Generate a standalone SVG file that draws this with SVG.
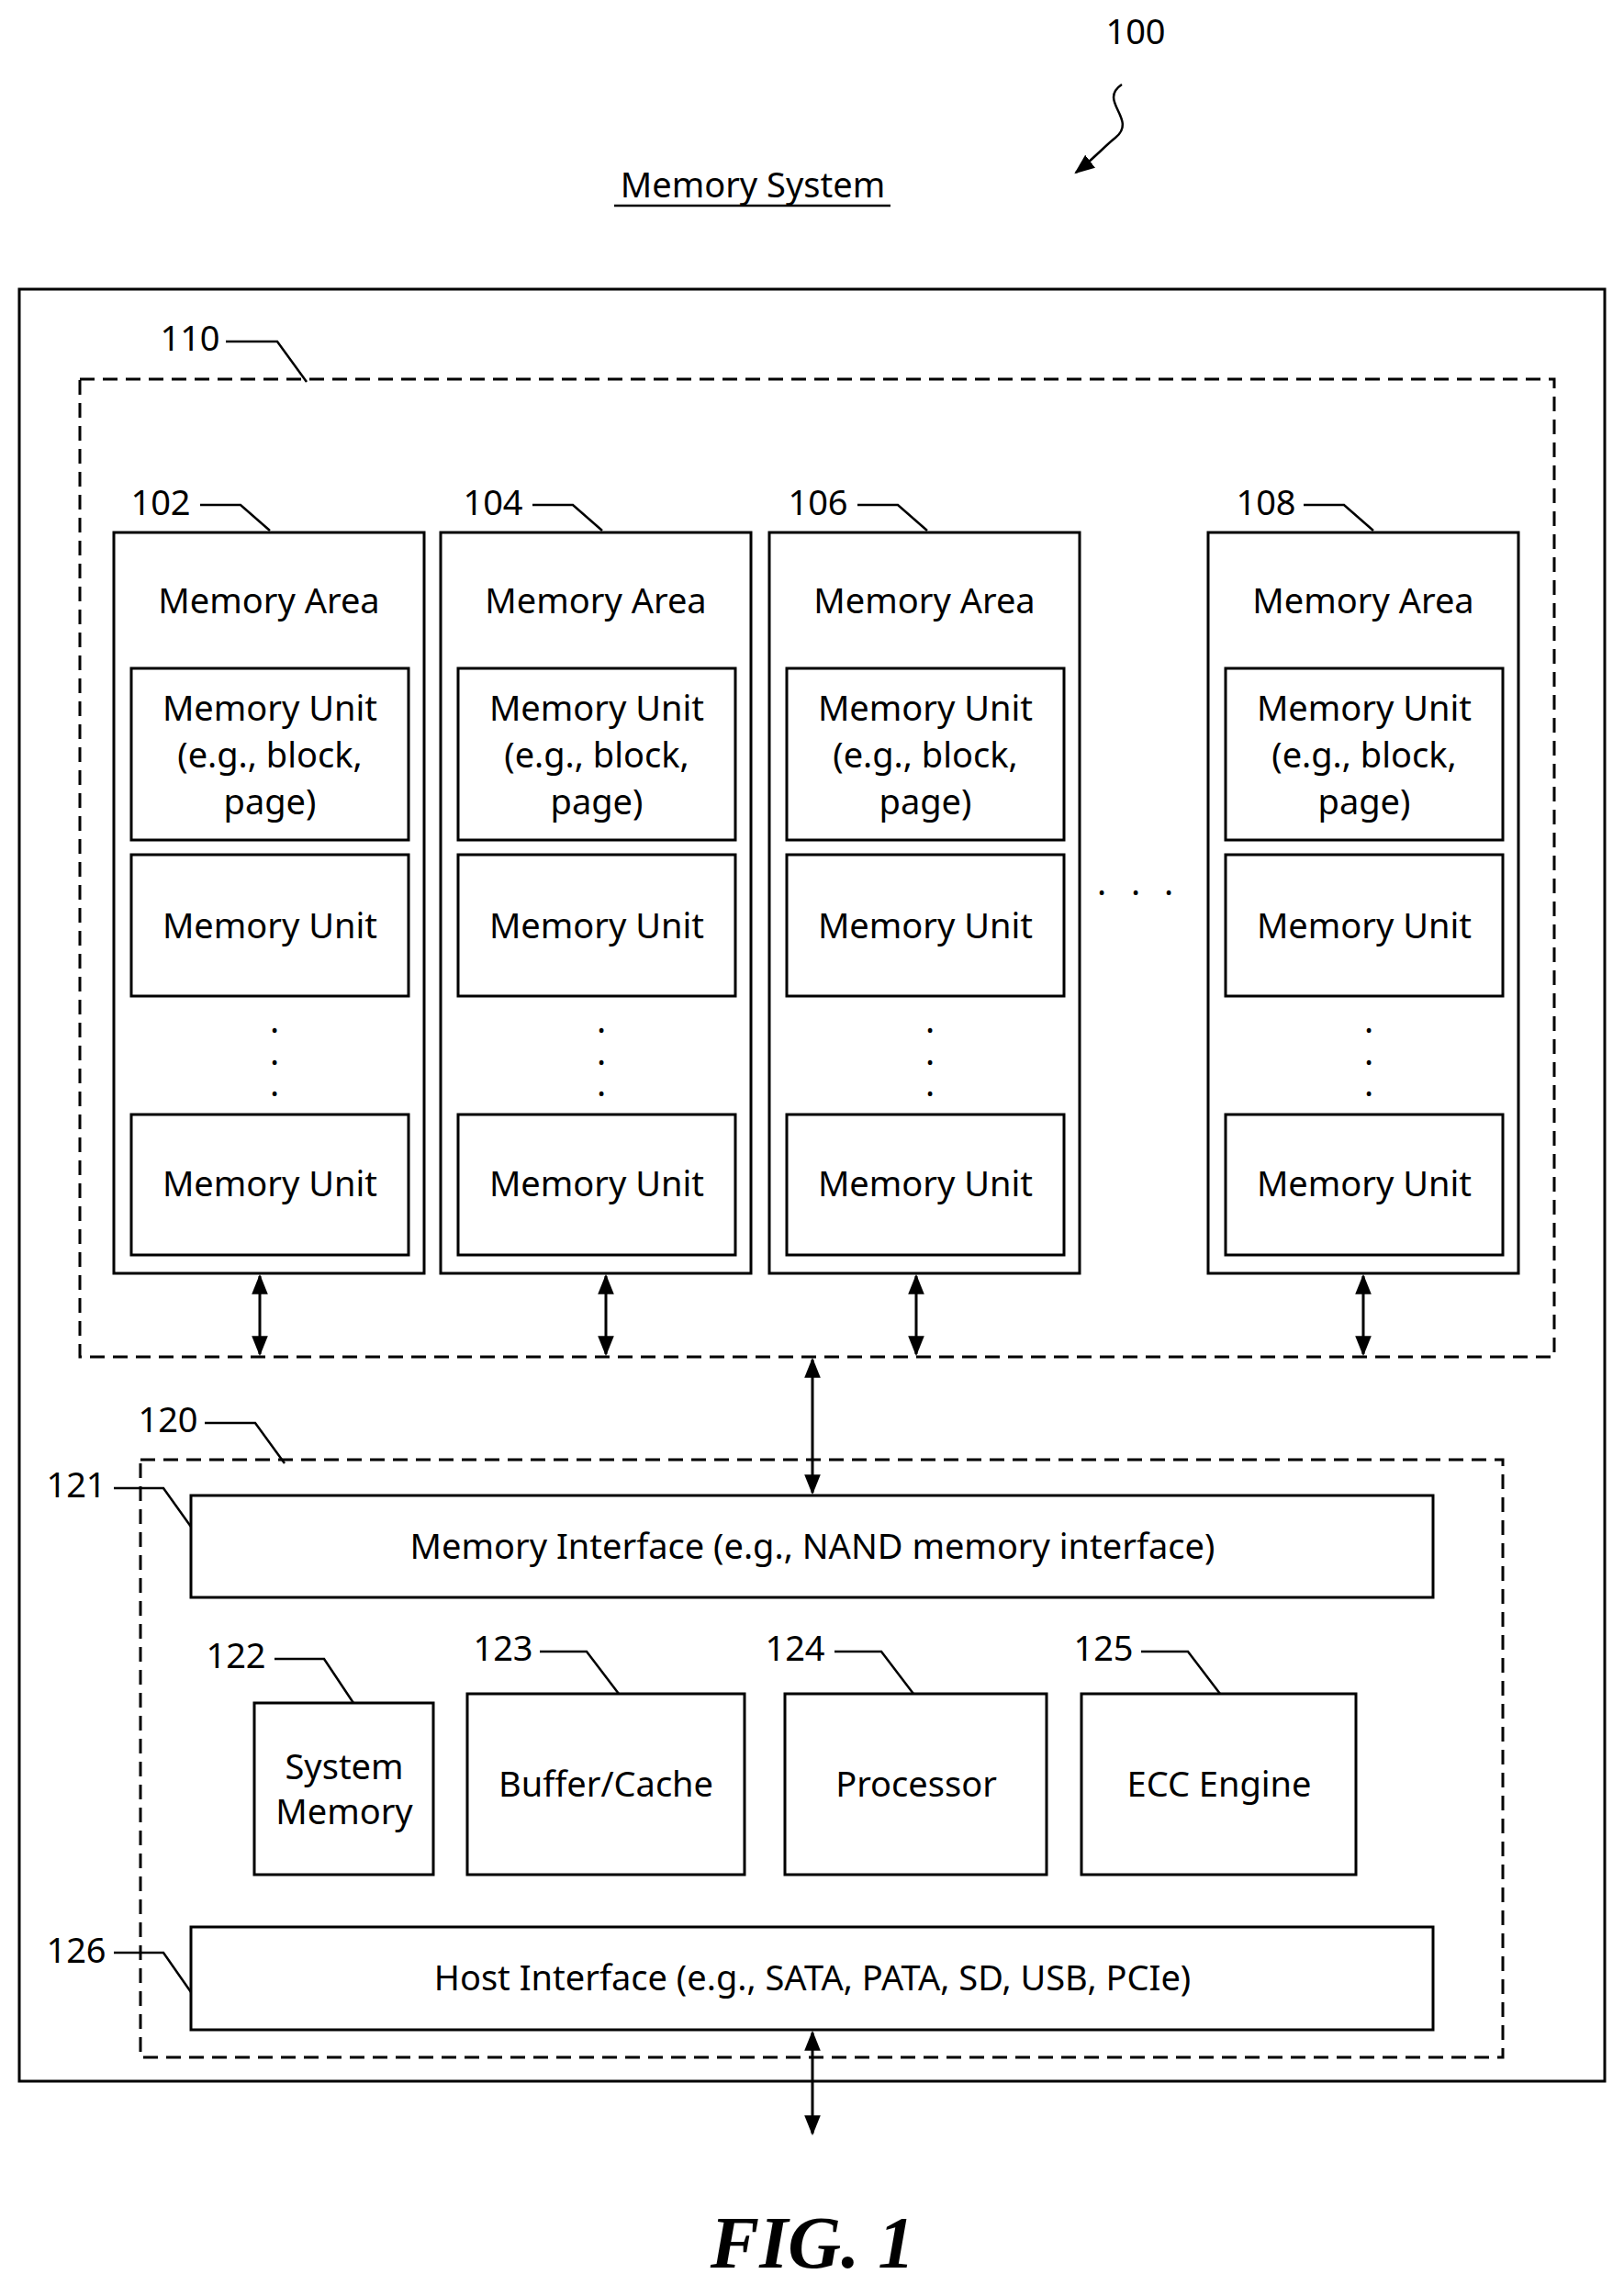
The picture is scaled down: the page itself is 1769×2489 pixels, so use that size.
<svg xmlns="http://www.w3.org/2000/svg" width="1769" height="2489" viewBox="0 0 1769 2489">
<defs>
<marker id="ah" viewBox="0 0 10 10" refX="9" refY="5" markerWidth="7" markerHeight="7" orient="auto-start-reverse" markerUnits="userSpaceOnUse"><path d="M0,0 L10,5 L0,10 z" fill="#000"/></marker>
<marker id="a2" viewBox="0 0 10 10" refX="9" refY="5" markerWidth="22" markerHeight="22" orient="auto-start-reverse" markerUnits="userSpaceOnUse"><path d="M0,1 L10,5 L0,9 z" fill="#000"/></marker>
</defs>
<style>
text{font-family:"Noto Sans","DejaVu Sans",sans-serif;font-size:38px;fill:#000}
.c{text-anchor:middle}
.b{fill:#fff;stroke:#000;stroke-width:3}
.d{fill:none;stroke:#000;stroke-width:3;stroke-dasharray:16,9}
.l{fill:none;stroke:#000;stroke-width:2.5}
.ar{stroke:#000;stroke-width:3;fill:none;marker-start:url(#a2);marker-end:url(#a2)}
</style>
<rect width="1769" height="2489" fill="#fff"/>
<text x="1237" y="48" class="c">100</text>
<path class="l" d="M1222,92 C1195,110 1240,130 1215,150 C1200,162 1195,170 1172,188" marker-end="url(#a2)"/>
<text x="820" y="215" class="c">Memory System</text>
<line x1="669" y1="224" x2="970" y2="224" stroke="#000" stroke-width="2.5"/>
<rect x="21" y="315" width="1727" height="1952" fill="none" stroke="#000" stroke-width="3"/>
<g id="n110"><rect class="d" x="87" y="413" width="1606" height="1065"/><text x="207" y="382" class="c">110</text><path class="l" d="M246,372 H302 L334,416"/></g>
<g id="n102"><rect class="b" x="124" y="580" width="338" height="807"/><text x="293" y="668" class="c">Memory Area</text>
<rect class="b" x="143" y="728" width="302" height="187"/><text x="294" y="785" class="c">Memory Unit</text><text x="294" y="836" class="c">(e.g., block,</text><text x="294" y="887" class="c">page)</text>
<rect class="b" x="143" y="931" width="302" height="154"/><text x="294" y="1022" class="c">Memory Unit</text>
<text x="299" y="1125" class="c">.</text><text x="299" y="1160" class="c">.</text><text x="299" y="1194" class="c">.</text>
<rect class="b" x="143" y="1214" width="302" height="153"/><text x="294" y="1303" class="c">Memory Unit</text>
<text x="175" y="561" class="c">102</text><path class="l" d="M218,550 H262 L294,578"/></g>
<g id="n104"><rect class="b" x="480" y="580" width="338" height="807"/><text x="649" y="668" class="c">Memory Area</text>
<rect class="b" x="499" y="728" width="302" height="187"/><text x="650" y="785" class="c">Memory Unit</text><text x="650" y="836" class="c">(e.g., block,</text><text x="650" y="887" class="c">page)</text>
<rect class="b" x="499" y="931" width="302" height="154"/><text x="650" y="1022" class="c">Memory Unit</text>
<text x="655" y="1125" class="c">.</text><text x="655" y="1160" class="c">.</text><text x="655" y="1194" class="c">.</text>
<rect class="b" x="499" y="1214" width="302" height="153"/><text x="650" y="1303" class="c">Memory Unit</text>
<text x="537" y="561" class="c">104</text><path class="l" d="M580,550 H624 L656,578"/></g>
<g id="n106"><rect class="b" x="838" y="580" width="338" height="807"/><text x="1007" y="668" class="c">Memory Area</text>
<rect class="b" x="857" y="728" width="302" height="187"/><text x="1008" y="785" class="c">Memory Unit</text><text x="1008" y="836" class="c">(e.g., block,</text><text x="1008" y="887" class="c">page)</text>
<rect class="b" x="857" y="931" width="302" height="154"/><text x="1008" y="1022" class="c">Memory Unit</text>
<text x="1013" y="1125" class="c">.</text><text x="1013" y="1160" class="c">.</text><text x="1013" y="1194" class="c">.</text>
<rect class="b" x="857" y="1214" width="302" height="153"/><text x="1008" y="1303" class="c">Memory Unit</text>
<text x="891" y="561" class="c">106</text><path class="l" d="M934,550 H978 L1010,578"/></g>
<g id="dots"><text x="1200" y="975" class="c">.</text><text x="1237" y="975" class="c">.</text><text x="1273" y="975" class="c">.</text></g>
<g id="n108"><rect class="b" x="1316" y="580" width="338" height="807"/><text x="1485" y="668" class="c">Memory Area</text>
<rect class="b" x="1335" y="728" width="302" height="187"/><text x="1486" y="785" class="c">Memory Unit</text><text x="1486" y="836" class="c">(e.g., block,</text><text x="1486" y="887" class="c">page)</text>
<rect class="b" x="1335" y="931" width="302" height="154"/><text x="1486" y="1022" class="c">Memory Unit</text>
<text x="1491" y="1125" class="c">.</text><text x="1491" y="1160" class="c">.</text><text x="1491" y="1194" class="c">.</text>
<rect class="b" x="1335" y="1214" width="302" height="153"/><text x="1486" y="1303" class="c">Memory Unit</text>
<text x="1379" y="561" class="c">108</text><path class="l" d="M1420,550 H1464 L1496,578"/></g>
<g id="n120"><rect class="d" x="153" y="1590" width="1484" height="651"/><text x="183" y="1560" class="c">120</text><path class="l" d="M223,1550 H278 L310,1594"/></g>
<g id="n121"><rect class="b" x="208" y="1629" width="1353" height="111"/><text x="885" y="1698" class="c">Memory Interface (e.g., NAND memory interface)</text>
<text x="83" y="1631" class="c">121</text><path class="l" d="M124,1621 H178 L208,1663"/></g>
<g id="n122"><rect class="b" x="277" y="1855" width="195" height="187"/><text x="375" y="1938" class="c">System</text><text x="375" y="1987" class="c">Memory</text>
<text x="257" y="1817" class="c">122</text><path class="l" d="M299,1807 H353 L385,1855"/></g>
<g id="n123"><rect class="b" x="509" y="1845" width="302" height="197"/><text x="660" y="1957" class="c">Buffer/Cache</text>
<text x="548" y="1809" class="c">123</text><path class="l" d="M588,1799 H639 L674,1845"/></g>
<g id="n124"><rect class="b" x="855" y="1845" width="285" height="197"/><text x="998" y="1957" class="c">Processor</text>
<text x="866" y="1809" class="c">124</text><path class="l" d="M909,1799 H960 L995,1845"/></g>
<g id="n125"><rect class="b" x="1178" y="1845" width="299" height="197"/><text x="1328" y="1957" class="c">ECC Engine</text>
<text x="1202" y="1809" class="c">125</text><path class="l" d="M1243,1799 H1294 L1329,1845"/></g>
<g id="n126"><rect class="b" x="208" y="2099" width="1353" height="112"/><text x="885" y="2168" class="c">Host Interface (e.g., SATA, PATA, SD, USB, PCIe)</text>
<text x="83" y="2138" class="c">126</text><path class="l" d="M124,2127 H178 L208,2170"/></g>
<g id="connectors">
<line class="ar" x1="283" y1="1390" x2="283" y2="1475"/>
<line class="ar" x1="660" y1="1390" x2="660" y2="1475"/>
<line class="ar" x1="998" y1="1390" x2="998" y2="1475"/>
<line class="ar" x1="1485" y1="1390" x2="1485" y2="1475"/>
<line class="ar" x1="885" y1="1481" x2="885" y2="1626"/>
<line class="ar" x1="885" y1="2214" x2="885" y2="2324"/>
</g>
<text x="885" y="2470" class="c" style="font-family:'Liberation Serif',serif;font-style:italic;font-weight:bold;font-size:80px">FIG. 1</text>
</svg>
